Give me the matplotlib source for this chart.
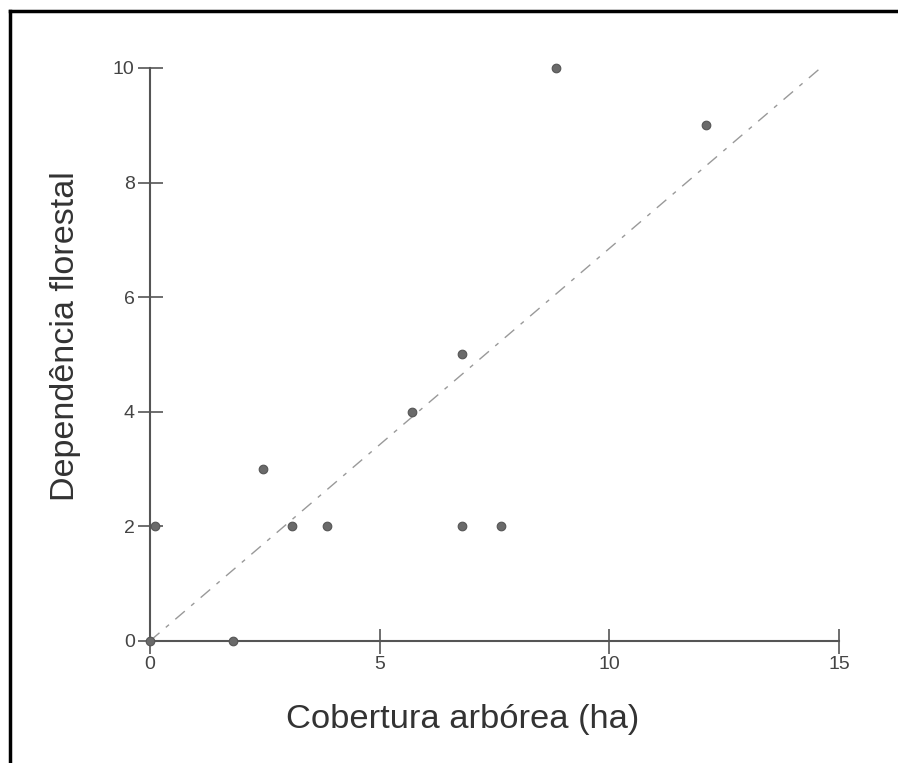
import matplotlib.pyplot as plt
from matplotlib.lines import Line2D

# cobertura arbórea (ha) vs dependência florestal
cobertura = [0.0, 1.8, 0.1, 2.45, 3.1, 3.85, 5.7, 6.8, 6.8, 7.65, 8.85, 12.1]
dependencia = [0, 0, 2, 3, 2, 2, 4, 5, 2, 2, 10, 9]

# linha de tendência
tend_x = [0, 14.6]
tend_y = [0, 10]

x_ticks = [0, 5, 10, 15]
y_ticks = [0, 2, 4, 6, 8, 10]

plt.rcParams['font.family'] = ['Liberation Sans', 'DejaVu Sans']

fig = plt.figure(figsize=(8.98, 7.63), dpi=100)
ax = fig.add_axes([0.167, 0.160, 0.7673, 0.751])

ax.plot(tend_x, tend_y, color='#999999', linewidth=1.0,
        dashes=(9, 6, 3, 6), clip_on=False)
ax.plot(cobertura, dependencia, 'o', markersize=6.2, markerfacecolor='#6a6a6a',
        markeredgecolor='#555555', markeredgewidth=0.8, clip_on=False, zorder=5)

ax.set_xlim(0, 15)
ax.set_ylim(0, 10)
ax.set_xticks(x_ticks)
ax.set_yticks(y_ticks)

for side in ['top', 'right']:
    ax.spines[side].set_visible(False)
for side in ['left', 'bottom']:
    ax.spines[side].set_color('#555555')
    ax.spines[side].set_linewidth(1.5)

ax.tick_params(direction='inout', length=18, width=1.2, color='#555555',
               labelsize=14, labelcolor='#444444', pad=2)

ax.set_xlabel('Cobertura arbórea (ha)', fontsize=24.8, color='#333333')
ax.set_ylabel('Dependência florestal', fontsize=24.6, color='#333333')
ax.xaxis.set_label_coords(0.454, -0.11)
ax.yaxis.set_label_coords(-0.1, 0.532)

# moldura preta à esquerda e em cima
fig.add_artist(Line2D([0.0106, 0.0106], [0, 0.9856], transform=fig.transFigure,
                      color='black', linewidth=2.5))
fig.add_artist(Line2D([0.0106, 1.0], [0.9856, 0.9856], transform=fig.transFigure,
                      color='black', linewidth=2.5))

fig.savefig('out.png', dpi=100)
